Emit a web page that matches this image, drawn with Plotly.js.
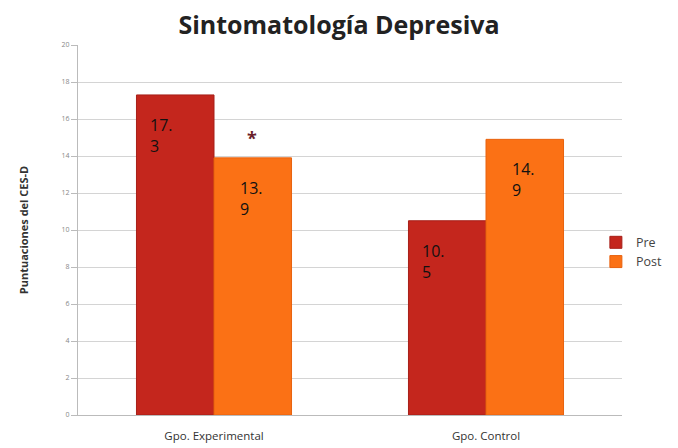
<!DOCTYPE html>
<html><head><meta charset="utf-8">
<script src="https://cdn.plot.ly/plotly-3.0.1.min.js"></script>
<style>body{margin:0;background:#fff}#c{width:678px;height:448px}</style>
</head><body><div id="c"></div>
<script>
const categories = ["Gpo. Experimental", "Gpo. Control"];
const preValues = [17.3, 10.5];
const postValues = [13.9, 14.9];
const preLabels = ["17.<br>3", "10.<br>5"];
const postLabels = ["13.<br>9", "14.<br>9"];
const yTicks = [0, 2, 4, 6, 8, 10, 12, 14, 16, 18, 20];

const traces = [
  {type: "bar", name: "Pre", x: categories, y: preValues,
   marker: {color: "#c4261d", line: {color: "#a71f18", width: 1}}, hoverinfo: "none"},
  {type: "bar", name: "Post", x: categories, y: postValues,
   marker: {color: "#fb7115", line: {color: "#e8630f", width: 1}}, hoverinfo: "none"}
];

const labelFont = {family: "Open Sans, sans-serif", size: 16, color: "#111"};
const annotations = [];
categories.forEach((c, i) => {
  annotations.push({x: c, y: preValues[i], xref: "x", yref: "y", text: preLabels[i], showarrow: false,
    xanchor: "left", yanchor: "top", align: "left", xshift: -66, yshift: -17, font: labelFont});
  annotations.push({x: c, y: postValues[i], xref: "x", yref: "y", text: postLabels[i], showarrow: false,
    xanchor: "left", yanchor: "top", align: "left", xshift: 24, yshift: -17, font: labelFont});
});
annotations.push({x: categories[0], y: postValues[0], xref: "x", yref: "y", text: "<b>*</b>", showarrow: false,
  xshift: 38, yshift: 20, font: {family: "Open Sans, sans-serif", size: 18, color: "#6a1e2a"}});

const layout = {
  width: 678, height: 448,
  margin: {l: 78, r: 56, t: 45, b: 33, autoexpand: false},
  paper_bgcolor: "#fff", plot_bgcolor: "#fff",
  barmode: "group", bargap: 0.43, bargroupgap: 0,
  title: {text: "<b>Sintomatología Depresiva</b>", x: 0.5, xanchor: "center", y: 0.944, yanchor: "middle",
          font: {family: "Open Sans, sans-serif", size: 25, color: "#222"}},
  showlegend: true,
  legend: {x: 0.952, xanchor: "left", y: 0.44, yanchor: "middle",
           bgcolor: "rgba(0,0,0,0)", font: {family: "Open Sans, sans-serif", size: 12.5, color: "#444"},
           itemwidth: 30, tracegroupgap: 6},
  xaxis: {type: "category", showgrid: false, showline: true, linecolor: "#bbb", linewidth: 1,
          ticks: "outside", ticklen: 10, tickcolor: "rgba(0,0,0,0)",
          tickfont: {family: "Open Sans, sans-serif", size: 11.5, color: "#333"}, fixedrange: true},
  yaxis: {range: [0, 20], tickvals: yTicks, ticktext: yTicks.map(String), showgrid: true, gridcolor: "#d4d4d4",
          showline: true, linecolor: "#bbb", ticks: "outside", ticklen: 6, tickcolor: "#bbb",
          tickfont: {family: "Open Sans, sans-serif", size: 7, color: "#888"}, zeroline: false,
          title: {text: "<b>Puntuaciones del CES-D</b>", standoff: 30,
                  font: {family: "Open Sans, sans-serif", size: 11, color: "#333"}}, fixedrange: true},
  annotations: annotations
};
Plotly.newPlot("c", traces, layout, {displayModeBar: false, staticPlot: true});
</script></body></html>
